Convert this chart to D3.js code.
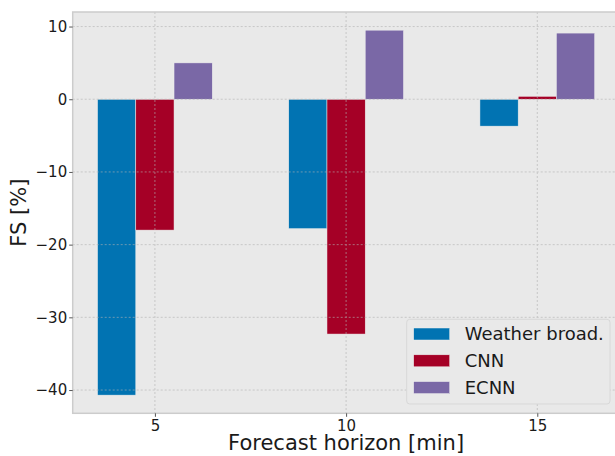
<!DOCTYPE html>
<html>
<head>
<meta charset="utf-8">
<script src="https://cdn.jsdelivr.net/npm/d3@7"></script>
<style>
body { margin: 0; background: #fff; }
text { font-family: "DejaVu Sans", sans-serif; fill: #1a1a1a; }
</style>
</head>
<body>
<script>
var horizons = [5, 10, 15];
var seriesNames = ["Weather broad.", "CNN", "ECNN"];
var weatherBroad = [-40.7, -17.8, -3.7];
var cnn = [-18.0, -32.3, 0.4];
var ecnn = [5.0, 9.5, 9.1];
var yTicks = [10, 0, -10, -20, -30, -40];
var colors = ["#0173b2", "#a50026", "#7a68a6"];

var width = 615, height = 456;
var margin = {left: 72.7, top: 12, bottom: 42.7};
var plotRight = 619.5;

var svg = d3.select("body").append("svg")
    .attr("width", width)
    .attr("height", height);

var x = d3.scaleLinear().domain([2.85, 17.15]).range([margin.left, plotRight]);
var y = d3.scaleLinear().domain([-43.2, 12.0]).range([height - margin.bottom, margin.top]);

var series = [weatherBroad, cnn, ecnn];
var bars = [];
series.forEach(function(vals, s) {
    vals.forEach(function(v, i) {
        bars.push({s: s, h: horizons[i], v: v});
    });
});

// background
svg.append("rect")
    .attr("x", x(2.85)).attr("y", y(12))
    .attr("width", x(17.15) - x(2.85))
    .attr("height", y(-43.2) - y(12))
    .attr("fill", "#e9e9e9");

svg.append("g").selectAll("rect")
    .data(bars)
    .enter().append("rect")
    .attr("x", function(d) { return x(d.h + (d.s - 1) - 0.5); })
    .attr("width", function(d) { return x(d.h + 0.5) - x(d.h - 0.5); })
    .attr("y", function(d) { return y(Math.max(0, d.v)); })
    .attr("height", function(d) { return Math.abs(y(d.v) - y(0)); })
    .attr("fill", function(d) { return colors[d.s]; })
    .attr("stroke", "#eeeeee")
    .attr("stroke-width", 0.5);

// grid, drawn over the bars
var grid = svg.append("g").attr("opacity", 0.6);
grid.selectAll("line.h")
    .data(yTicks)
    .enter().append("line")
    .attr("x1", x(2.85)).attr("x2", x(17.15))
    .attr("y1", function(d) { return y(d); })
    .attr("y2", function(d) { return y(d); })
    .attr("stroke", "#b2b2b2")
    .attr("stroke-width", 1)
    .attr("stroke-dasharray", "2,2");
grid.selectAll("line.v")
    .data(horizons)
    .enter().append("line")
    .attr("y1", y(12)).attr("y2", y(-43.2))
    .attr("x1", function(d) { return x(d); })
    .attr("x2", function(d) { return x(d); })
    .attr("stroke", "#b2b2b2")
    .attr("stroke-width", 1)
    .attr("stroke-dasharray", "2,2");

// frame
svg.append("rect")
    .attr("x", x(2.85)).attr("y", y(12))
    .attr("width", x(17.15) - x(2.85))
    .attr("height", y(-43.2) - y(12))
    .attr("fill", "none")
    .attr("stroke", "#cccccc")
    .attr("stroke-width", 1.5);

// axes
var xAxis = d3.axisBottom(x).tickValues(horizons).tickSize(3.5).tickPadding(4)
    .tickFormat(d3.format("d"));
var gx = svg.append("g")
    .attr("transform", "translate(0," + y(-43.2) + ")")
    .call(xAxis);
var yAxis = d3.axisLeft(y).tickValues(yTicks).tickSize(3.5).tickPadding(2)
    .tickFormat(function(d) { return d < 0 ? "\u2212" + Math.abs(d) : d; });
var gy = svg.append("g")
    .attr("transform", "translate(" + x(2.85) + ",0)")
    .call(yAxis);
[gx, gy].forEach(function(g) {
    g.select(".domain").remove();
    g.selectAll(".tick line").attr("stroke", "#555");
    g.selectAll(".tick text").attr("font-size", 15).attr("fill", "#1a1a1a")
        .attr("font-family", "DejaVu Sans, sans-serif");
});

svg.append("text")
    .attr("x", (margin.left + plotRight) / 2)
    .attr("y", 450)
    .attr("text-anchor", "middle")
    .attr("font-size", 21)
    .text("Forecast horizon [min]");

svg.append("text")
    .attr("transform", "translate(26," + (y(12) + y(-43.2)) / 2 + ") rotate(-90)")
    .attr("text-anchor", "middle")
    .attr("font-size", 21)
    .text("FS [%]");

// legend
var legend = svg.append("g").attr("transform", "translate(406.7,319.3)");
legend.append("rect")
    .attr("width", 203.3).attr("height", 84.7)
    .attr("rx", 3)
    .attr("fill", "#e9e9e9")
    .attr("stroke", "#d8d8d8")
    .attr("stroke-width", 1);
var item = legend.selectAll("g.item")
    .data(seriesNames)
    .enter().append("g")
    .attr("transform", function(d, i) { return "translate(0," + (14.7 + i * 26.8) + ")"; });
item.append("rect")
    .attr("x", 7).attr("y", -6)
    .attr("width", 36).attr("height", 12)
    .attr("fill", function(d, i) { return colors[i]; })
    .attr("stroke", "#eeeeee").attr("stroke-width", 0.5);
item.append("text")
    .attr("x", 58).attr("dy", "0.35em")
    .attr("font-size", 18)
    .text(function(d) { return d; });
</script>
</body>
</html>
